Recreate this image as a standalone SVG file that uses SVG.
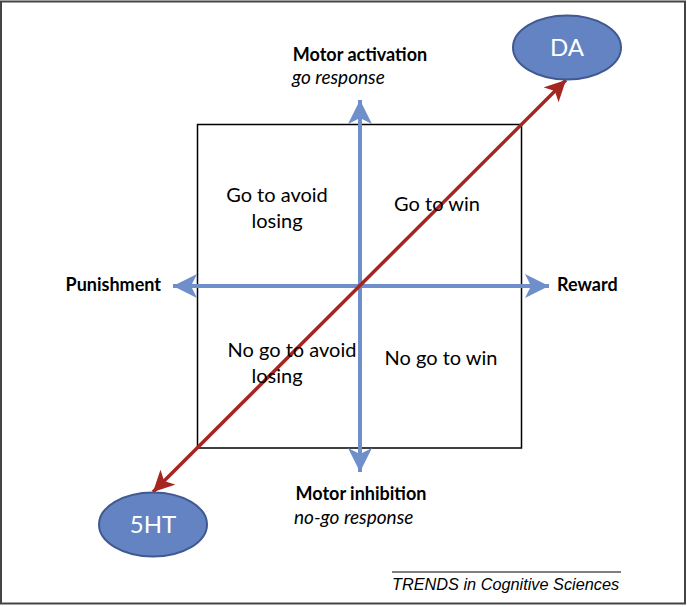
<svg xmlns="http://www.w3.org/2000/svg" width="687" height="607" viewBox="0 0 687 607">
<style>
.lbl{font-family:Lato,"Open Sans",sans-serif;font-size:18px;fill:#000}
.b{font-weight:bold}
.i{font-style:italic;font-size:19px}
.q{font-family:Lato,"Open Sans",sans-serif;font-size:20px;fill:#000;text-anchor:middle}
.node ellipse{fill:#6383c3;stroke:#41598f;stroke-width:2}
.node text{font-family:Lato,"Open Sans",sans-serif;font-size:24px;fill:#fff;text-anchor:middle}
.axis{stroke:#6f8fcb;stroke-width:4;fill:none}
.diag{stroke:#a52621;stroke-width:3.5;fill:none}
</style>
<defs>
<marker id="ab" viewBox="0 0 10 10" refX="10" refY="5" markerWidth="6" markerHeight="6" markerUnits="strokeWidth" orient="auto-start-reverse">
<path d="M0,0 L10,5 L0,10 L2.5,5 Z" fill="#6f8fcb"/>
</marker>
<marker id="ar" viewBox="0 0 10 10" refX="10" refY="5" markerWidth="6" markerHeight="6" markerUnits="strokeWidth" orient="auto-start-reverse">
<path d="M0,0 L10,5 L0,10 L2.5,5 Z" fill="#a52621"/>
</marker>
</defs>
<rect x="1" y="1.5" width="684" height="602" fill="#fff" stroke="#444" stroke-width="2"/>
<g id="quadrant-box">
<rect x="197.5" y="124.5" width="324" height="323.5" fill="none" stroke="#000" stroke-width="1.5"/>
</g>
<g id="connectors">
<line class="axis" x1="173" y1="286" x2="549" y2="286" marker-start="url(#ab)" marker-end="url(#ab)"/>
<line class="axis" x1="360" y1="100" x2="360" y2="472" marker-start="url(#ab)" marker-end="url(#ab)"/>
<line class="diag" x1="153" y1="492" x2="566" y2="80" marker-start="url(#ar)" marker-end="url(#ar)"/>
</g>
<g id="label-motor-activation">
<text class="lbl b" x="360" y="61" text-anchor="middle">Motor activation</text>
<text class="lbl i" x="292" y="84">go response</text>
</g>
<g id="label-motor-inhibition">
<text class="lbl b" x="361" y="500" text-anchor="middle">Motor inhibition</text>
<text class="lbl i" x="294" y="524">no-go response</text>
</g>
<g id="label-punishment"><text class="lbl b" x="161" y="291" text-anchor="end">Punishment</text></g>
<g id="label-reward"><text class="lbl b" x="557" y="291">Reward</text></g>
<g id="q-go-avoid"><text class="q" x="277" y="202">Go to avoid</text><text class="q" x="277" y="228">losing</text></g>
<g id="q-go-win"><text class="q" x="437" y="211">Go to win</text></g>
<g id="q-nogo-avoid"><text class="q" x="292" y="357">No go to avoid</text><text class="q" x="277" y="383">losing</text></g>
<g id="q-nogo-win"><text class="q" x="441" y="365">No go to win</text></g>
<g id="node-DA" class="node"><ellipse cx="567" cy="47.5" rx="54" ry="32"/><text x="567" y="56">DA</text></g>
<g id="node-5HT" class="node"><ellipse cx="153" cy="524.5" rx="54" ry="32"/><text x="153" y="533">5HT</text></g>
<g id="credit">
<line x1="392" y1="572" x2="621" y2="572" stroke="#000" stroke-width="1"/>
<text x="392" y="590" font-family="Liberation Sans,Arial,sans-serif" font-size="16.3" font-style="italic" fill="#000">TRENDS in Cognitive Sciences</text>
</g>
</svg>
